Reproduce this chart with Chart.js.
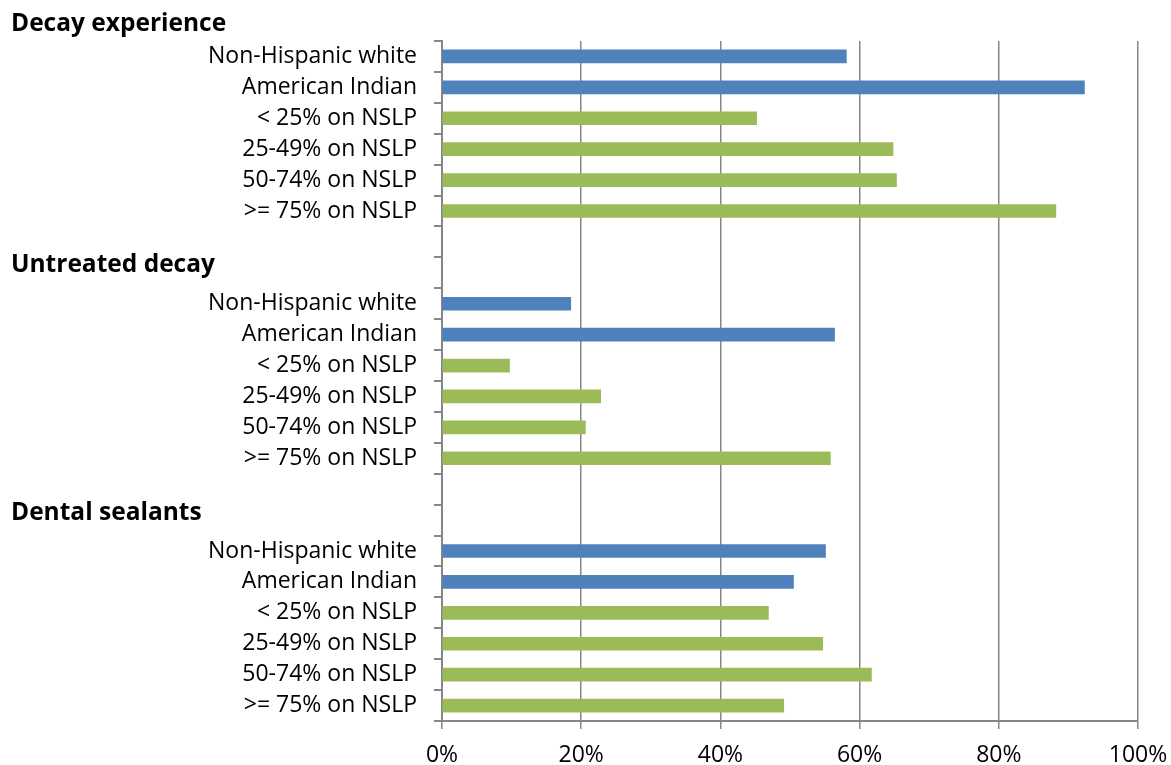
<!DOCTYPE html>
<html>
<head>
<meta charset="utf-8">
<script src="https://cdn.jsdelivr.net/npm/chart.js@4/dist/chart.umd.min.js"></script>
<style>
  html, body { margin: 0; padding: 0; background: #fff; }
  #wrap { width: 1171px; height: 765px; position: relative; }
</style>
</head>
<body>
<div id="wrap"><canvas id="oralHealthChart"></canvas></div>
<script>
// groups and row labels
var groups = ['Decay experience', 'Untreated decay', 'Dental sealants'];
var rowLabels = ['Non-Hispanic white', 'American Indian', '< 25% on NSLP', '25-49% on NSLP', '50-74% on NSLP', '>= 75% on NSLP'];

// percent of children
var decayExperience = [58.1, 92.3, 45.2, 64.8, 65.3, 88.2];
var untreatedDecay = [18.5, 56.4, 9.7, 22.8, 20.6, 55.8];
var dentalSealants = [55.1, 50.5, 46.9, 54.7, 61.7, 49.1];

var xTicks = [0, 20, 40, 60, 80, 100];

var BLUE = '#4F81BD';
var GREEN = '#9BBB59';
var AXIS_GREY = '#868686';
var FONT = 'Open Sans';

// build one long category list, two blank rows between groups
var labels = [];
var values = [];
var colors = [];
var groupStart = [];
[decayExperience, untreatedDecay, dentalSealants].forEach(function(series, g) {
    if (g > 0) {
        labels.push('', '');
        values.push(null, null);
        colors.push(BLUE, BLUE);
    }
    groupStart.push(labels.length);
    series.forEach(function(v, i) {
        labels.push(rowLabels[i]);
        values.push(v);
        colors.push(i < 2 ? BLUE : GREEN);
    });
});

// bold group headings on the left, sitting just above each block
var headerOffsets = [32, 39, 38];
var groupHeaders = {
    id: 'groupHeaders',
    afterDraw: function(chart) {
        var ctx = chart.ctx;
        var yScale = chart.scales.y;
        ctx.save();
        ctx.fillStyle = '#000';
        ctx.font = 'bold 24.5px "' + FONT + '"';
        ctx.textAlign = 'left';
        ctx.textBaseline = 'middle';
        groups.forEach(function(name, g) {
            var y = yScale.getPixelForValue(groupStart[g]) - headerOffsets[g];
            ctx.fillText(name, 11, y);
        });
        ctx.restore();
    }
};

var ctx = document.getElementById('oralHealthChart').getContext('2d');
var oralHealthChart = new Chart(ctx, {
    type: 'bar',
    data: {
        labels: labels,
        datasets: [{
            data: values,
            backgroundColor: colors,
            barThickness: 13,
            borderWidth: 0
        }]
    },
    options: {
        indexAxis: 'y',
        responsive: true,
        maintainAspectRatio: false,
        animation: false,
        layout: { padding: { top: 41, right: 33, bottom: 0, left: 0 } },
        plugins: {
            legend: { display: false },
            tooltip: { enabled: false }
        },
        scales: {
            x: {
                min: 0,
                max: 100,
                afterBuildTicks: function(scale) {
                    scale.ticks = xTicks.map(function(v) { return { value: v }; });
                },
                afterFit: function(scale) {
                    scale.height = 44;
                    scale.paddingLeft = 0;
                    scale.paddingRight = 0;
                },
                ticks: {
                    color: '#000',
                    padding: 13,
                    font: { family: FONT, size: 23 },
                    callback: function(v) { return v + '%'; }
                },
                grid: {
                    color: AXIS_GREY,
                    lineWidth: 1.5,
                    tickLength: 8
                },
                border: { color: AXIS_GREY, width: 2 }
            },
            y: {
                afterFit: function(scale) { scale.width = 442; },
                ticks: {
                    color: '#000',
                    padding: 17,
                    autoSkip: false,
                    font: { family: FONT, size: 23 }
                },
                grid: {
                    offset: true,
                    drawOnChartArea: false,
                    color: AXIS_GREY,
                    lineWidth: 2,
                    tickLength: 8
                },
                border: { color: AXIS_GREY, width: 2 }
            }
        }
    },
    plugins: [groupHeaders]
});
</script>
</body>
</html>
